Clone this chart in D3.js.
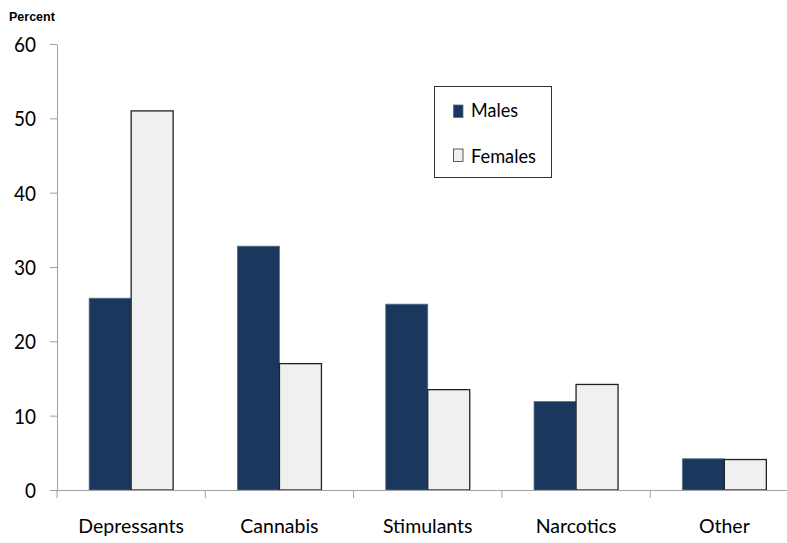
<!DOCTYPE html>
<html>
<head>
<meta charset="utf-8">
<script src="https://cdn.jsdelivr.net/npm/d3@7"></script>
<style>
  html, body { margin: 0; padding: 0; background: #fff; }
  svg { display: block; }
</style>
</head>
<body>
<svg id="chart" width="787" height="543"></svg>
<script>
// Drug category and share of users, by sex
const categories = ["Depressants", "Cannabis", "Stimulants", "Narcotics", "Other"];
const males = [25.8, 32.8, 25.0, 11.9, 4.2];
const females = [51.0, 17.0, 13.5, 14.2, 4.1];
const yTicks = [0, 10, 20, 30, 40, 50, 60];
const seriesNames = ["Males", "Females"];

const maleColor = "#1a375e";
const femaleColor = "#f0f0f0";
const labelFont = "Lato, 'Open Sans', sans-serif";

const svg = d3.select("#chart");
const margin = { left: 57, top: 44, bottom: 53 };
const step = 148.3;
const plotW = step * categories.length;
const height = 543;
const y0 = height - margin.bottom;
const groupW = 84;

const x = d3.scaleBand().domain(categories).range([margin.left, margin.left + plotW]).padding(0);
const y = d3.scaleLinear().domain([0, 60]).range([y0, margin.top]);
const off = (step - groupW) / 2;
const sub = d3.scaleBand().domain(seriesNames).range([off, off + groupW]).padding(0);

const axisColor = "#a0a0a0";

// y axis
const yAxis = svg.append("g").attr("transform", `translate(${margin.left},0)`)
  .call(d3.axisLeft(y).tickValues(yTicks).tickSize(7).tickSizeOuter(0).tickPadding(14));
yAxis.select(".domain").attr("stroke", axisColor);
yAxis.selectAll(".tick line").attr("stroke", axisColor);
yAxis.selectAll(".tick text")
  .attr("font-size", 22).attr("font-family", labelFont).attr("fill", "#000")
  .attr("dy", "0.34em")
  .attr("text-anchor", "end")
  .attr("textLength", d => String(d).length * 11)
  .attr("lengthAdjust", "spacingAndGlyphs");

// bars
const rows = categories.map((c, i) => ({ c, m: males[i], f: females[i] }));
const g = svg.append("g");
g.selectAll("rect.m").data(rows).join("rect").attr("class", "m")
  .attr("x", d => x(d.c) + sub("Males"))
  .attr("y", d => y(d.m))
  .attr("width", sub.bandwidth())
  .attr("height", d => y0 - y(d.m))
  .attr("fill", maleColor)
  .attr("stroke", "#5a6f8a").attr("stroke-width", 0.8);
g.selectAll("rect.f").data(rows).join("rect").attr("class", "f")
  .attr("x", d => x(d.c) + sub("Females"))
  .attr("y", d => y(d.f))
  .attr("width", sub.bandwidth())
  .attr("height", d => y0 - y(d.f))
  .attr("fill", femaleColor)
  .attr("stroke", "#222").attr("stroke-width", 1.3);

// x axis
const xAxis = svg.append("g").attr("transform", `translate(0,${y0})`)
  .call(d3.axisBottom(x).tickSize(0).tickPadding(29));
xAxis.select(".domain").attr("stroke", axisColor).attr("d", `M${margin.left - 7},0.5H${margin.left + plotW}`);
xAxis.selectAll(".tick text").attr("font-size", 19.5).attr("font-family", labelFont).attr("fill", "#000");
// category separators
xAxis.selectAll("line.sep").data(d3.range(categories.length + 1)).join("line").attr("class", "sep")
  .attr("x1", i => margin.left + i * x.step()).attr("x2", i => margin.left + i * x.step())
  .attr("y1", 0).attr("y2", 8).attr("stroke", axisColor);

// axis title
svg.append("text").attr("x", 9).attr("y", 21).text("Percent")
  .attr("font-family", "Liberation Sans, Arial, sans-serif").attr("font-weight", "bold").attr("font-size", 12.5);

// legend
const lg = svg.append("g").attr("transform", "translate(434.5,86.5)");
lg.append("rect").attr("width", 117).attr("height", 91).attr("fill", "#fff").attr("stroke", "#333").attr("stroke-width", 1);
const items = [
  { n: seriesNames[0], c: maleColor, s: "#5a6f8a", sy: 18.5, ty: 30.8, w: 47 },
  { n: seriesNames[1], c: femaleColor, s: "#333", sy: 62.5, ty: 76, w: 65 }
];
items.forEach(it => {
  lg.append("rect").attr("x", 19).attr("y", it.sy).attr("width", 9.5).attr("height", 12.5)
    .attr("fill", it.c).attr("stroke", it.s).attr("stroke-width", 0.8);
  lg.append("text").attr("x", 36.5).attr("y", it.ty).text(it.n)
    .attr("font-family", labelFont).attr("font-size", 18.5)
    .attr("textLength", it.w).attr("lengthAdjust", "spacingAndGlyphs");
});
</script>
</body>
</html>
